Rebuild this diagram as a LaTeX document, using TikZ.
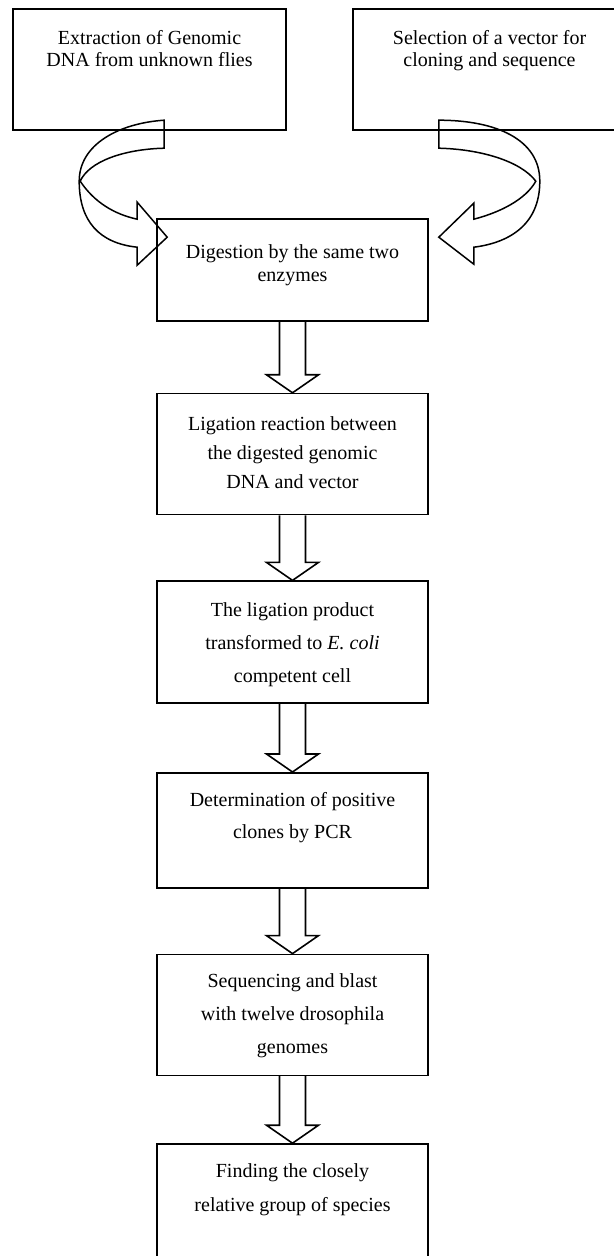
\documentclass[tikz,border=0pt]{standalone}
\usepackage{fontspec}
\setmainfont{Liberation Serif}
\usetikzlibrary{positioning,calc}
\tikzset{
  box/.style={draw, line width=0.8pt, minimum width=135.5pt, inner sep=0pt},
  boxtext/.style={align=center, inner sep=0pt, font=\fontsize{10}{#1}\selectfont},
  boxtext/.default=16.5pt,
  blockarrow/.style={draw, line width=0.8pt, to path={
    ($(\tikztostart)+(-13,0)$) -- ($(\tikztotarget)+(-13,-18)$) -- ($(\tikztotarget)+(-26,-18)$)
    -- (\tikztotarget) -- ($(\tikztotarget)+(26,-18)$) -- ($(\tikztotarget)+(13,-18)$) -- ($(\tikztostart)+(13,0)$)}},
  curvearrow/.style={draw, line width=0.75pt},
}

\begin{document}
\begin{tikzpicture}[x=0.5pt, y=-0.5pt]
  \path[use as bounding box, clip] (0,0) rectangle (614,1256);
  % the two starting boxes
  \node[box, minimum width=136.5pt, minimum height=60.5pt] (ext) at (149.5,69.5) {};
  \node[box, minimum width=136.5pt, minimum height=60.5pt] (sel) at (489.5,69.5) {};
  \node[boxtext=11pt, below=11pt] at (ext.north) {Extraction of Genomic\\DNA from unknown flies};
  \node[boxtext=11pt, below=11pt] at (sel.north) {Selection of a vector for\\cloning and sequence};
  % main column
  \node[box, minimum height=51pt] (dig) at (292.5,270) {};
  \node[box, minimum height=60.5pt, below=35.5pt of dig] (lig) {};
  \node[box, minimum height=61pt, below=32.5pt of lig] (prod) {};
  \node[box, minimum height=57.5pt, below=34pt of prod] (pcr) {};
  \node[box, minimum height=60.5pt, below=32.5pt of pcr] (seq) {};
  \node[box, minimum height=75pt, below=33.5pt of seq] (find) {};
  \node[boxtext=11.5pt, below=13pt] at (dig.north) {Digestion by the same two\\enzymes};
  \node[boxtext=14.5pt, below=11.5pt] at (lig.north) {Ligation reaction between\\the digested genomic\\DNA and vector};
  \node[boxtext, below=11pt] at (prod.north) {The ligation product\\transformed to \textit{E. coli}\\competent cell};
  \node[boxtext=16pt, below=10pt] at (pcr.north) {Determination of positive\\clones by PCR};
  \node[boxtext, below=10pt] at (seq.north) {Sequencing and blast\\with twelve drosophila\\genomes};
  \node[boxtext=17pt, below=10pt] at (find.north) {Finding the closely\\relative group of species};
  % straight block arrows
  \foreach \a/\b in {dig/lig, lig/prod, prod/pcr, pcr/seq, seq/find}
    \draw[blockarrow] (\a.south) to (\b.north);
  % curved arrows into the digestion box
  \coordinate (ltip) at ($(dig.north west)+(11,19)$);
  \coordinate (rtip) at ($(dig.north east)+(10,19)$);
  \begin{scope}[shift={(ltip)}]
    \draw[curvearrow] (-3,-117) .. controls (-48,-114) and (-88,-93) .. (-88,-56)
      .. controls (-88,-16) and (-68,6) .. (-30,10) -- (-30,28) -- (0,0) -- (-30,-35) -- (-30,-18)
      .. controls (-53,-23) and (-73,-35) .. (-87,-56) .. controls (-78,-76) and (-43,-88) .. (-3,-89) -- cycle;
  \end{scope}
  \begin{scope}[shift={(rtip)}]
    \draw[curvearrow] (0,-117) .. controls (57,-117) and (101,-98) .. (101,-56)
      .. controls (101,-10) and (67,6) .. (35,10) -- (35,27) -- (0,0) -- (35,-34) -- (35,-18)
      .. controls (62,-25) and (87,-38) .. (97,-56) .. controls (82,-76) and (42,-88) .. (0,-89) -- cycle;
  \end{scope}
\end{tikzpicture}
\end{document}
